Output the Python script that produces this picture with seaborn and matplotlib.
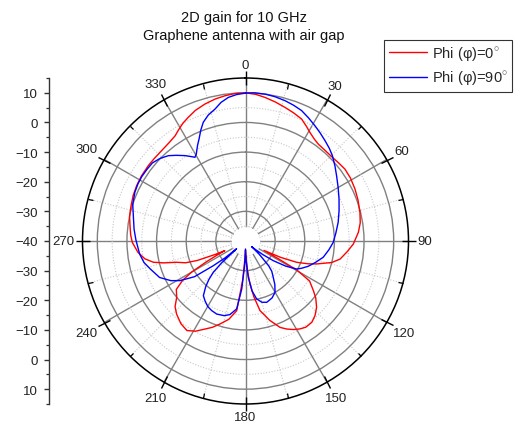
import numpy as np
import pandas as pd
import matplotlib
matplotlib.use("Agg")
import matplotlib.pyplot as plt
import seaborn as sns
from matplotlib.ticker import MultipleLocator, FixedLocator

# ---------------- data ----------------
red_deg = [0, 4, 7.7, 12, 16.5, 20.5, 24.7, 28, 30.7, 34, 36.9, 41, 46, 50, 54.1, 59,
           64.6, 70, 76, 81, 85.6, 91.6, 96, 100.8, 104, 107.9, 110, 112.6, 115, 117,
           118.5, 119.5, 122, 126.2, 129, 133, 137, 140.8, 145, 148.2, 151.5, 154.9,
           158.2, 163, 168.2, 171.5, 174, 176, 178, 180, 182, 184, 187.2, 192, 197.1,
           201, 204.7, 209, 213.2, 218, 223.3, 227, 230.7, 235, 238, 240, 242, 244,
           245, 246, 248, 250, 252.8, 255, 257, 260, 264, 269.3, 273, 277.5, 282,
           287.1, 292, 297, 302, 307.8, 312, 317.1, 322, 326.2, 329, 332, 335.2, 339,
           343.5, 348, 352, 356, 360]
red_db = [10.0, 9.6, 8.9, 8.0, 7.0, 6.2, 5.3, 3.8, 2.6, 1.5, 0.9, 0.7, 0.7, 1.0, 1.4,
          1.3, 0.9, 0.4, -0.2, -0.8, -1.8, -3.6, -5.5, -7.5, -10.0, -14.8, -17.5, -21.3,
          -27.0, -33.0, -27.0, -20.0, -14.5, -11.6, -9.5, -7.2, -5.6, -4.6, -4.5, -5.1,
          -6.0, -7.2, -8.6, -12.0, -16.0, -21.0, -25.4, -29.5, -34.0, -37.0, -34.0,
          -27.0, -16.3, -13.0, -10.7, -8.8, -7.3, -5.2, -3.9, -4.6, -6.1, -7.5, -10.0,
          -11.5, -15.0, -19.0, -25.0, -30.0, -32.3, -29.0, -22.5, -18.5, -15.7, -11.5,
          -8.1, -5.5, -3.5, -1.8, -1.2, -0.7, 0.0, 0.4, 0.9, 1.2, 1.4, 1.5, 1.5, 1.6,
          2.0, 2.7, 3.8, 5.0, 6.0, 7.2, 8.2, 9.0, 9.5, 9.9, 10.0]

blue_deg = [0, 3.5, 7.6, 11.5, 15.7, 19.5, 23.3, 27, 31.1, 34.7, 38.4, 42, 45.5, 50,
            54.4, 60, 65.8, 72, 78.6, 85, 90.9, 96, 101.8, 107, 112, 116, 118.7, 122,
            125.3, 128, 130.5, 132.6, 134, 137, 139, 142.6, 146, 150.1, 155, 160.9, 165,
            169.1, 172.5, 175.6, 178, 180, 182, 184.5, 187.4, 192, 196, 201.5, 206, 210,
            214, 217.6, 221, 223.5, 225.8, 227.5, 229, 230.5, 232.5, 235, 238.8, 242,
            247, 253.7, 258, 263, 270.7, 276, 282.7, 288, 293.8, 298, 301.8, 306, 310,
            314, 317.9, 321, 324.7, 327, 328.9, 330.5, 331.6, 333.5, 335.5, 338, 340.4,
            343.5, 347, 350, 353.2, 356.5, 360]
blue_db = [9.9, 10.1, 10.0, 9.7, 9.2, 8.6, 7.9, 6.7, 5.4, 4.3, 3.2, 2.2, 1.1, -0.6,
           -2.2, -3.9, -5.4, -6.8, -8.1, -9.4, -10.4, -11.7, -13.2, -15.3, -17.2, -19.0,
           -20.3, -24.0, -28.5, -32.5, -35.5, -37.2, -33.5, -28.5, -26.5, -24.6, -22.3,
           -20.0, -18.8, -18.1, -18.6, -20.1, -23.0, -27.7, -33.0, -37.3, -32.0, -23.7,
           -16.9, -14.6, -13.8, -13.5, -13.9, -14.5, -15.6, -16.7, -19.5, -22.0, -24.8,
           -29.0, -36.0, -31.0, -26.3, -19.0, -14.2, -11.5, -8.5, -6.5, -5.0, -4.0,
           -3.0, -2.2, -1.2, 0.0, 0.8, 1.1, 1.2, 1.1, 1.0, 0.1, -1.2, -2.8, -4.7, -6.0,
           -7.0, -6.3, -5.4, -3.8, -2.2, 0.3, 2.5, 4.3, 5.7, 7.5, 8.8, 9.5, 9.9]

angle_ticks = list(range(0, 360, 30))
radial_major = [-30, -20, -10, 0, 10]
radial_minor = [-35, -25, -15, -5, 5]
left_ticks = list(range(-50, 51, 10))
series_labels = ["Phi (φ)=0$^{\\circ}$", "Phi (φ)=90$^{\\circ}$"]
series_colors = ["#ff0000", "#0000ff"]
r_min, r_max = -40, 15

# ---------------- figure ----------------
sns.set_theme(style="white")
plt.rcParams["font.family"] = ["Liberation Sans", "DejaVu Sans"]
plt.rcParams["mathtext.fontset"] = "custom"
plt.rcParams["mathtext.rm"] = "Liberation Sans"
plt.rcParams["xtick.bottom"] = True
plt.rcParams["xtick.top"] = True
plt.rcParams["ytick.left"] = True

W, H = 517, 431
fig = plt.figure(figsize=(W / 100, H / 100), dpi=100)
fig.patch.set_facecolor("white")

cx, cy, R = 245.5, 242.0, 163.0
px_per_db = R / (r_max - r_min)
ax = fig.add_axes([(cx - R) / W, 1 - (cy + R) / H, 2 * R / W, 2 * R / H], projection="polar")
ax.set_facecolor("white")
ax.set_theta_zero_location("N")
ax.set_theta_direction(-1)
ax.set_rlim(r_min, r_max)
ax.set_axisbelow(True)

ax.set_yticks(radial_major)
ax.set_yticks(radial_minor, minor=True)
ax.set_yticklabels([])
ax.set_xticks(np.deg2rad(angle_ticks))
ax.set_xticklabels([])
ax.xaxis.set_minor_locator(FixedLocator(np.deg2rad(np.arange(15, 360, 30))))

ax.grid(True, which="major", color="#808080", lw=1.0, ls="-")
ax.grid(True, which="minor", color="#c8c8c8", lw=0.8, ls=(0, (1, 1.5)))
ax.tick_params(axis="x", which="major", bottom=True, top=True, direction="inout",
               length=5, width=1.0, color="black")
ax.tick_params(axis="x", which="minor", bottom=True, top=True, direction="in",
               length=3.5, width=0.9, color="black")
ax.tick_params(axis="y", which="both", left=False, length=0)
ax.spines["polar"].set_color("black")
ax.spines["polar"].set_linewidth(1.1)

# angle labels: box kept a fixed gap outside the outer circle
fs_tick = 9.5
digit_w = 0.556 * fs_tick * 100 / 72
text_h = 9.0
gap = 8.5
for a in angle_ticks:
    w = digit_w * len(str(a))
    rad = np.deg2rad(a)
    half = abs(np.sin(rad)) * w / 2 + abs(np.cos(rad)) * text_h / 2
    r_lab = r_max + (gap + half) / px_per_db
    ax.text(rad, r_lab, str(a), ha="center", va="center", fontsize=fs_tick,
            color="#222222", clip_on=False)

# white hole in the middle, under the curves
th = np.linspace(0, 2 * np.pi, 300)
ax.fill_between(th, r_min, -35.2, color="white", zorder=1, lw=0)

df = pd.concat([
    pd.DataFrame({"theta": np.deg2rad(red_deg), "gain": red_db, "series": series_labels[0]}),
    pd.DataFrame({"theta": np.deg2rad(blue_deg), "gain": blue_db, "series": series_labels[1]}),
])
sns.lineplot(data=df, x="theta", y="gain", hue="series", palette=series_colors,
             sort=False, estimator=None, lw=1.0, ax=ax, legend=False, zorder=3)
for ln in ax.get_lines():
    ln.set_solid_joinstyle("round")
ax.set_xlabel("")
ax.set_ylabel("")
ax.set_rlim(r_min, r_max)

# ---------------- left radial scale ----------------
lax = fig.add_axes([49 / W, 1 - (cy + R) / H, 0.0001, 2 * R / H])
lax.set_ylim(-(r_max - r_min), r_max - r_min)
lax.set_facecolor("none")
for s in ["top", "right", "bottom"]:
    lax.spines[s].set_visible(False)
lax.spines["left"].set_color("#333333")
lax.spines["left"].set_linewidth(1.0)
lax.set_xticks([])
lax.set_yticks(left_ticks)
lax.set_yticklabels([str(abs(v) + r_min).replace("-", "\u2212") for v in left_ticks],
                    fontsize=fs_tick, color="#222222")
lax.yaxis.set_minor_locator(MultipleLocator(5))
lax.tick_params(axis="y", which="major", left=True, direction="out", length=3.5,
                width=1.0, color="#333333", pad=4.5)
lax.tick_params(axis="y", which="minor", left=True, direction="out", length=2,
                width=0.9, color="#333333")

# ---------------- titles ----------------
fig.text(244 / W, 1 - 18 / H, "2D gain for 10 GHz", ha="center", va="center",
         fontsize=10.5, color="#111111")
fig.text(244 / W, 1 - 36 / H, "Graphene antenna with air gap", ha="center", va="center",
         fontsize=10.5, color="#111111")

# ---------------- legend ----------------
handles = [plt.Line2D([], [], color=c, lw=1.0) for c in series_colors]
leg = fig.legend(handles, series_labels, loc="upper right",
                 bbox_to_anchor=(512 / W, 1 - 41 / H), frameon=True, fancybox=False,
                 fontsize=10.5, handlelength=2.6, handletextpad=0.35, borderpad=0.3,
                 labelspacing=0.45, borderaxespad=0)
leg.get_frame().set_edgecolor("black")
leg.get_frame().set_linewidth(0.8)

fig.savefig("out.png", dpi=100, facecolor="white")
